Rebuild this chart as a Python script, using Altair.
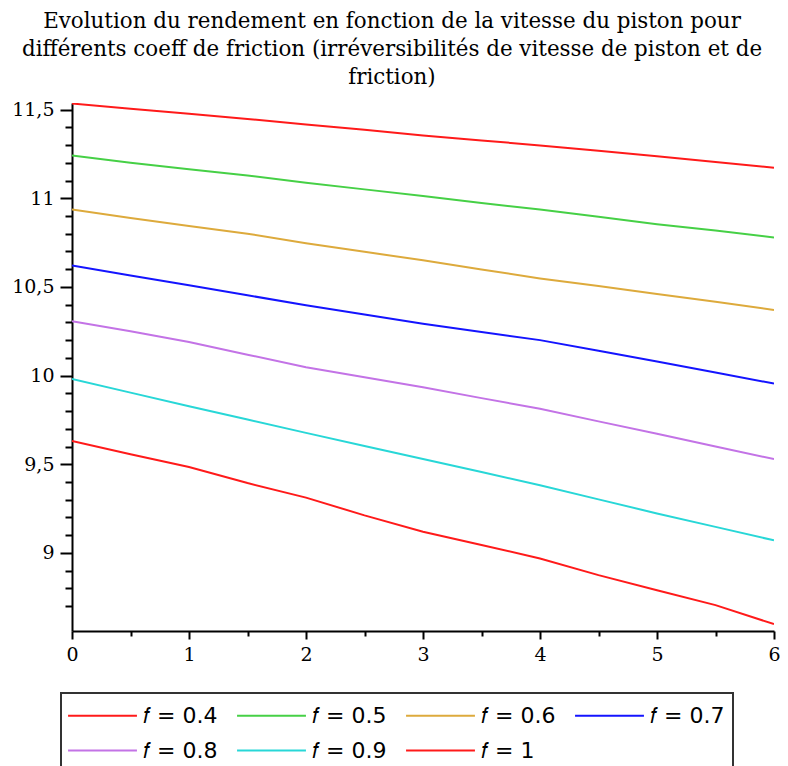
import altair as alt
import pandas as pd

# vitesse du piston (axe x)
vitesse = [0.0, 0.5, 1.0, 1.5, 2.0, 2.5, 3.0, 3.5, 4.0, 4.5, 5.0, 5.5, 6.0]

# rendement pour chaque coefficient de friction
rend_f04 = [11.534, 11.505, 11.477, 11.447, 11.416, 11.386, 11.354, 11.326, 11.298, 11.268, 11.237, 11.205, 11.172]
rend_f05 = [11.241, 11.200, 11.163, 11.128, 11.088, 11.050, 11.012, 10.973, 10.936, 10.896, 10.854, 10.818, 10.779]
rend_f06 = [10.936, 10.889, 10.844, 10.800, 10.746, 10.698, 10.650, 10.598, 10.548, 10.505, 10.460, 10.416, 10.370]
rend_f07 = [10.621, 10.565, 10.509, 10.453, 10.397, 10.345, 10.292, 10.246, 10.200, 10.140, 10.080, 10.018, 9.955]
rend_f08 = [10.307, 10.250, 10.190, 10.118, 10.047, 9.991, 9.934, 9.873, 9.813, 9.742, 9.672, 9.600, 9.529]
rend_f09 = [9.981, 9.904, 9.827, 9.752, 9.677, 9.603, 9.530, 9.456, 9.382, 9.302, 9.223, 9.147, 9.071]
rend_f10 = [9.631, 9.557, 9.485, 9.394, 9.312, 9.212, 9.120, 9.045, 8.969, 8.875, 8.790, 8.706, 8.599]

series_labels = ["𝑓 = 0.4", "𝑓 = 0.5", "𝑓 = 0.6", "𝑓 = 0.7", "𝑓 = 0.8", "𝑓 = 0.9", "𝑓 = 1"]
series_values = [rend_f04, rend_f05, rend_f06, rend_f07, rend_f08, rend_f09, rend_f10]
series_colors = ["#FF1A1A", "#46D046", "#DDAA3C", "#1414FF", "#C373E6", "#28D7D7", "#FF1A1A"]

y_tick_values = [8.7, 8.8, 8.9, 9.0, 9.1, 9.2, 9.3, 9.4, 9.5, 9.6, 9.7, 9.8, 9.9, 10.0,
                 10.1, 10.2, 10.3, 10.4, 10.5, 10.6, 10.7, 10.8, 10.9, 11.0, 11.1,
                 11.2, 11.3, 11.4, 11.5]
x_tick_values = [0, 0.5, 1, 1.5, 2, 2.5, 3, 3.5, 4, 4.5, 5, 5.5, 6]
y_domain = [8.56, 11.537]
x_domain = [0, 6]

title_lines = [
    "Evolution du rendement en fonction de la vitesse du piston pour",
    "différents coeff de friction (irréversibilités de vitesse de piston et de",
    "friction)",
]

rows = []
for lab, vals in zip(series_labels, series_values):
    for xv, yv in zip(vitesse, vals):
        rows.append({"vitesse": xv, "rendement": yv, "serie": lab})
df = pd.DataFrame(rows)

serif = "DejaVu Serif"

x_axis = alt.Axis(
    values=x_tick_values,
    labelExpr="abs(datum.value - round(datum.value)) < 1e-6 ? (datum.value + '') : ''",
    tickSize={"condition": {"test": "abs(datum.value - round(datum.value)) < 1e-6", "value": 8}, "value": 5},
    labelFont=serif, labelFontSize=19, labelColor="black", labelPadding=6,
    labelOverlap=False, labelFlush=False,
    domainColor="black", domainWidth=2, tickColor="black", tickWidth=2,
    grid=False, title=None,
)
y_axis = alt.Axis(
    values=y_tick_values,
    labelExpr="abs(datum.value * 2 - round(datum.value * 2)) < 1e-6 ? replace(datum.value + '', '.', ',') : ''",
    tickSize={"condition": {"test": "abs(datum.value * 2 - round(datum.value * 2)) < 1e-6", "value": 12}, "value": 7},
    labelFont=serif, labelFontSize=19, labelColor="black", labelPadding=6,
    labelOverlap=False, labelFlush=False,
    domainColor="black", domainWidth=2, tickColor="black", tickWidth=2,
    grid=False, title=None,
)

chart = (
    alt.Chart(df)
    .mark_line(strokeWidth=2, clip=True)
    .encode(
        x=alt.X("vitesse:Q", scale=alt.Scale(domain=x_domain, nice=False, zero=False), axis=x_axis),
        y=alt.Y("rendement:Q", scale=alt.Scale(domain=y_domain, nice=False, zero=False), axis=y_axis),
        color=alt.Color(
            "serie:N",
            scale=alt.Scale(domain=series_labels, range=series_colors),
            sort=series_labels,
            legend=alt.Legend(
                title=None, orient="none", legendX=-11, legendY=590,
                direction="horizontal", columns=4, gridAlign="all",
                symbolType="M-2.6,0H2.6", symbolSize=702, symbolStrokeWidth=2,
                symbolOffset=19,
                labelFont="DejaVu Sans", labelFontSize=22, labelColor="black",
                labelOffset=26, columnPadding=15, rowPadding=9, padding=8,
                strokeColor="#333333",
            ),
        ),
        detail="serie:N",
    )
    .properties(
        width=702,
        height=528,
        autosize=alt.AutoSizeParams(type="none"),
        padding={"left": 64, "top": 95, "right": 6, "bottom": 135},
        title=alt.Title(
            text=title_lines, font=serif, fontSize=21.4, fontWeight="normal",
            lineHeight=28, anchor="middle", offset=12, dx=-31, color="black",
        ),
    )
    .configure_view(stroke=None)
    .configure_legend(strokeWidth=2)
)

chart.save("out.html", embed_options={"renderer": "svg", "actions": False})
